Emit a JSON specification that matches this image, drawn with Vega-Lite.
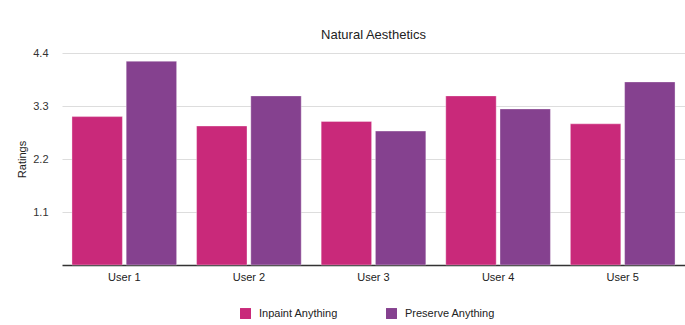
{
  "$schema": "https://vega.github.io/schema/vega-lite/v6.json",
  "width": 623,
  "height": 212,
  "autosize": {"type": "none"},
  "padding": {"left": 62, "top": 53, "right": 0, "bottom": 60},
  "background": "white",
  "title": {"text": "Natural Aesthetics", "font": "Liberation Sans", "fontSize": 13, "fontWeight": "normal", "color": "#222222", "offset": 5, "anchor": "middle"},
  "config": {"view": {"stroke": null}, "font": "Liberation Sans"},
  "data": {"values": [
    {"user": "User 1", "method": "Inpaint Anything", "rating": 3.08},
    {"user": "User 1", "method": "Preserve Anything", "rating": 4.23},
    {"user": "User 2", "method": "Inpaint Anything", "rating": 2.885},
    {"user": "User 2", "method": "Preserve Anything", "rating": 3.51},
    {"user": "User 3", "method": "Inpaint Anything", "rating": 2.98},
    {"user": "User 3", "method": "Preserve Anything", "rating": 2.78},
    {"user": "User 4", "method": "Inpaint Anything", "rating": 3.51},
    {"user": "User 4", "method": "Preserve Anything", "rating": 3.24},
    {"user": "User 5", "method": "Inpaint Anything", "rating": 2.93},
    {"user": "User 5", "method": "Preserve Anything", "rating": 3.8}
  ]},
  "mark": {"type": "bar", "stroke": "white", "strokeOpacity": 0.35, "strokeWidth": 1},
  "encoding": {
    "x": {"field": "user", "type": "nominal", "title": null,
      "scale": {"paddingInner": 0.16, "paddingOuter": 0.08},
      "axis": {"labelAngle": 0, "ticks": false, "domainColor": "#333333", "domainWidth": 1.5, "labelFontSize": 11, "labelColor": "#222222", "labelPadding": 6, "grid": false}},
    "xOffset": {"field": "method", "type": "nominal", "scale": {"paddingInner": 0.07}},
    "y": {"field": "rating", "type": "quantitative", "title": "Ratings",
      "scale": {"domain": [0, 4.4], "nice": false},
      "axis": {"values": [1.1, 2.2, 3.3, 4.4], "format": ".1f", "domain": false, "ticks": false, "gridColor": "#dddddd", "labelFontSize": 11, "labelColor": "#333333", "labelPadding": 14, "titleFontSize": 11, "titleFontWeight": "normal", "titleColor": "#222222", "titlePadding": 5}},
    "color": {"field": "method", "type": "nominal", "title": null,
      "scale": {"domain": ["Inpaint Anything", "Preserve Anything"], "range": ["#c9297a", "#85418f"]},
      "legend": {"orient": "none", "legendX": 178, "legendY": 255, "direction": "horizontal", "symbolType": "square", "symbolSize": 120, "symbolStrokeWidth": 0, "labelFontSize": 11, "labelColor": "#222222", "columnPadding": 48, "labelOffset": 8}}
  }
}
